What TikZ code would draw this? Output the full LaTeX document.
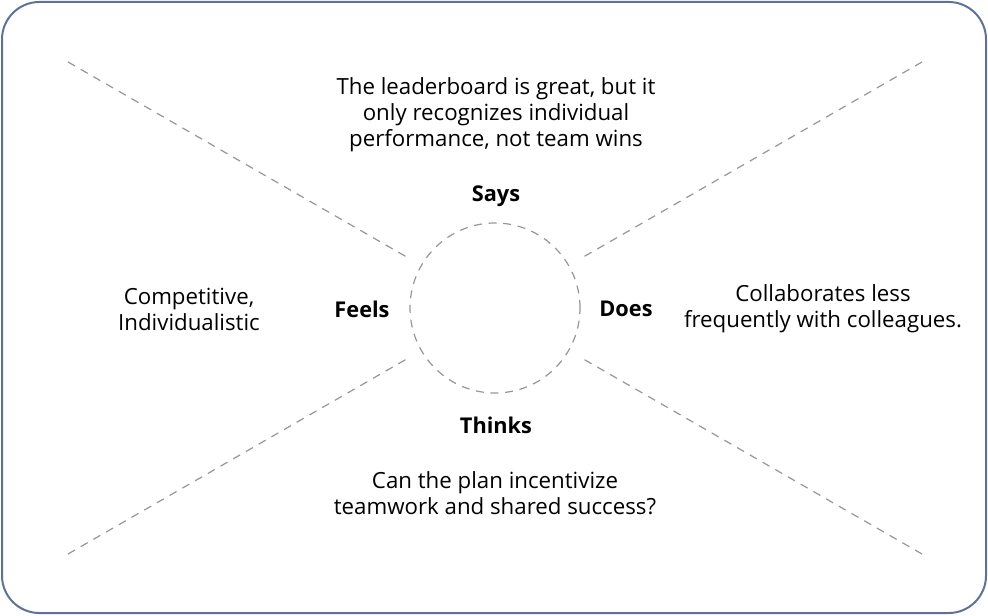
\documentclass[tikz,border=0pt]{standalone}
\usepackage{fontspec}
\setmainfont{Open Sans}
\usepackage{tikz}
\usetikzlibrary{positioning,calc}
\definecolor{frameblue}{RGB}{94,114,150}
\definecolor{dashgray}{RGB}{150,150,150}

\begin{document}
\begin{tikzpicture}[x=0.75pt, y=-0.75pt,
    quadline/.style={dashgray, line width=0.9pt, dash pattern=on 6pt off 5pt},
    quadlabel/.style={font=\bfseries\fontsize{16.3}{19}\selectfont},
    quadtext/.style={font=\fontsize{16.7}{19.5}\selectfont, align=center}]
    % frame
    \draw[frameblue, line width=1.5pt, rounded corners=28pt] (2,2) rectangle (986,613);
    \useasboundingbox (0,0) rectangle (988,616);
    % center circle
    \node[circle, draw=dashgray, line width=0.9pt, dash pattern=on 6pt off 5pt, minimum size=127.5pt, inner sep=0pt] (hub) at (495,308) {};
    % diagonals
    \coordinate (tl) at (68,62);
    \coordinate (tr) at (922,62);
    \coordinate (bl) at (68,554);
    \coordinate (br) at (922,554);
    \coordinate (tlin) at ($(hub.center)+(150:75pt)$);
    \coordinate (trin) at ($(hub.center)+(30:75pt)$);
    \coordinate (blin) at ($(hub.center)+(210:75pt)$);
    \coordinate (brin) at ($(hub.center)+(330:75pt)$);
    \draw[quadline] (tl) -- (tlin);
    \draw[quadline] (tr) -- (trin);
    \draw[quadline] (bl) -- (blin);
    \draw[quadline] (br) -- (brin);
    % quadrant labels
    \node[quadlabel] (says) at (496,196) {Says};
    \node[quadlabel] (feels) at (362,309) {Feels};
    \node[quadlabel] (does) at (626,309) {Does};
    \node[quadlabel] (thinks) at (496,425) {Thinks};
    % quadrant notes
    \node[quadtext] (saystext) at (496,115) {The leaderboard is great, but it\\only recognizes individual\\performance, not team wins};
    \node[quadtext] (feelstext) at (189,309) {Competitive,\\Individualistic};
    \node[quadtext] (doestext) at (823,309) {Collaborates less\\frequently with colleagues.};
    \node[quadtext] (thinkstext) at (495,493) {Can the plan incentivize\\teamwork and shared success?};
\end{tikzpicture}
\end{document}
